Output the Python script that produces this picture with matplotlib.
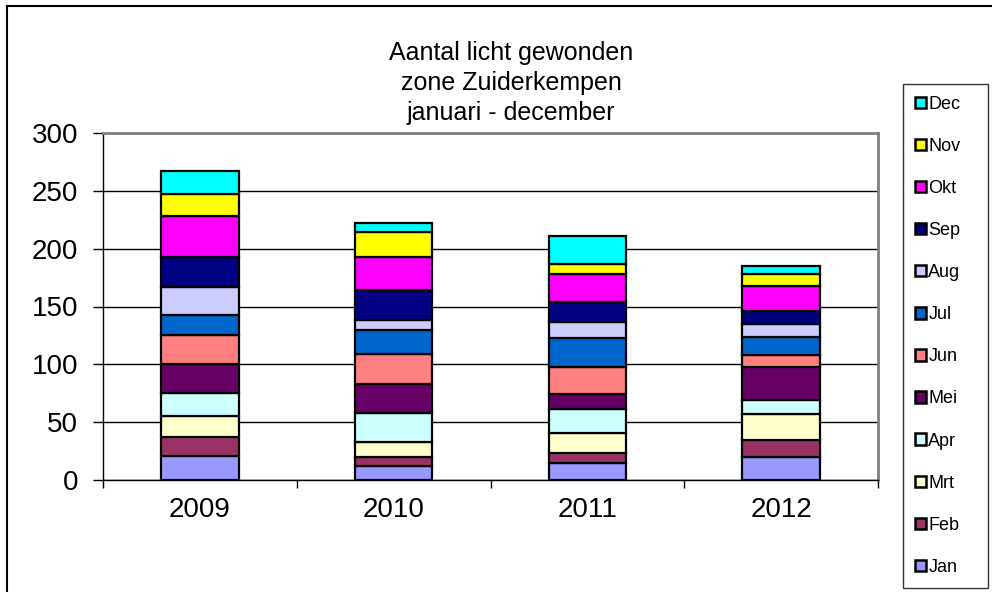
import matplotlib as mpl
mpl.use('Agg')
import matplotlib.pyplot as plt
from matplotlib.lines import Line2D
import numpy as np

plt.rcParams['font.family'] = ['Liberation Sans', 'DejaVu Sans']

years = ['2009', '2010', '2011', '2012']
months = ['Jan', 'Feb', 'Mrt', 'Apr', 'Mei', 'Jun', 'Jul', 'Aug', 'Sep', 'Okt', 'Nov', 'Dec']

# aantal licht gewonden per maand, per jaar (2009, 2010, 2011, 2012)
jan = [21, 12, 15, 20]
feb = [16, 8, 8, 15]
mrt = [18, 13, 18, 22]
apr = [20, 25, 20, 12]
mei = [25, 25, 13, 29]
jun = [25, 26, 24, 10]
jul = [18, 21, 25, 16]
aug = [24, 8, 14, 11]
sep = [26, 26, 17, 11]
okt = [35, 29, 24, 22]
nov = [19, 21, 9, 10]
dec = [20, 8, 24, 7]

series = [jan, feb, mrt, apr, mei, jun, jul, aug, sep, okt, nov, dec]
colors = ['#9999FF', '#993366', '#FFFFCC', '#CCFFFF', '#660066', '#FF8080',
          '#0066CC', '#CCCCFF', '#000080', '#FF00FF', '#FFFF00', '#00FFFF']

W, H = 992, 592
fig = plt.figure(figsize=(W / 100, H / 100), dpi=100)

# plot area in pixels: left 103, right 878, top 133, bottom 480
ax = fig.add_axes([103 / W, 1 - 480 / H, (878 - 103) / W, (480 - 133) / H])

x = np.arange(len(years))
bottom = np.zeros(len(years))
bars = []
for vals, c, m in zip(series, colors, months):
    b = ax.bar(x, vals, bottom=bottom, width=0.4, color=c, edgecolor='black',
               linewidth=1.6, label=m, zorder=3)
    bars.append(b)
    bottom += np.array(vals)

ax.set_xlim(-0.5, 3.5)
ax.set_ylim(0, 300)
ax.set_yticks(range(0, 301, 50))
ax.set_xticks(x)
ax.set_xticklabels(years)
ax.set_xticks(np.arange(-0.5, 4, 1), minor=True)
ax.tick_params(axis='x', which='major', length=0, labelsize=20, pad=12)
ax.tick_params(axis='x', which='minor', length=6, width=1, direction='out')
ax.tick_params(axis='y', length=7, width=1, direction='out', labelsize=20, pad=11)
ax.yaxis.grid(True, color='black', linewidth=1, zorder=0)
ax.set_axisbelow(True)

for s in ['top', 'right']:
    ax.spines[s].set_color('#808080')
    ax.spines[s].set_linewidth(2)
for s in ['left', 'bottom']:
    ax.spines[s].set_color('black')
    ax.spines[s].set_linewidth(1)

fig.text(511 / W, 1 - 83 / H, 'Aantal licht gewonden\nzone Zuiderkempen\njanuari - december',
         ha='center', va='center', fontsize=18, linespacing=1.3)

# legend, Dec on top
handles = bars[::-1]
labels = months[::-1]
leg = fig.legend(handles, labels, loc='upper left', mode='expand',
                 bbox_to_anchor=(903 / W, 1 - 84 / H, 85 / W, 0), fontsize=13,
                 frameon=True, fancybox=False, handlelength=0.6, handleheight=0.6,
                 handletextpad=0.15, labelspacing=1.39, borderpad=0.65,
                 borderaxespad=0)
leg.get_frame().set_edgecolor('black')
leg.get_frame().set_linewidth(1)
for h in leg.legend_handles:
    h.set_linewidth(1.8)

# border of the chart area (cropped at right and bottom)
fig.add_artist(Line2D([7 / W, 7 / W], [0, 1 - 6 / H], color='black', linewidth=1.5))
fig.add_artist(Line2D([7 / W, 1], [1 - 6 / H, 1 - 6 / H], color='black', linewidth=1.5))

fig.savefig('out.png', dpi=100)
